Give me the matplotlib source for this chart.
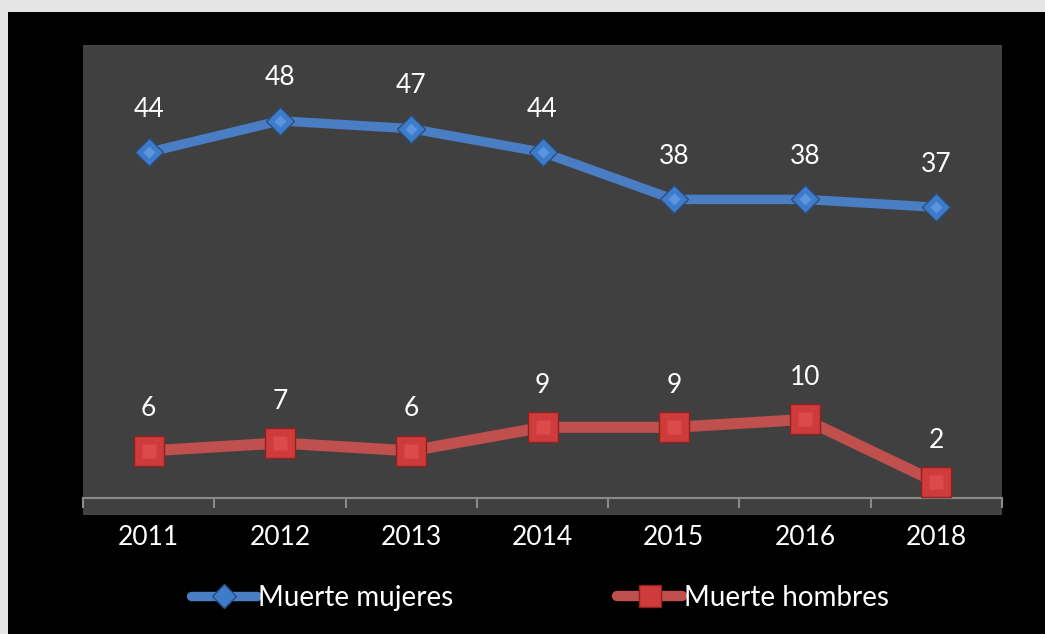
import matplotlib
matplotlib.use("Agg")
import matplotlib.pyplot as plt
from matplotlib.patches import Rectangle
from matplotlib.lines import Line2D

years = ["2011", "2012", "2013", "2014", "2015", "2016", "2018"]
mujeres = [44, 48, 47, 44, 38, 38, 37]
hombres = [6, 7, 6, 9, 9, 10, 2]
series_names = ["Muerte mujeres", "Muerte hombres"]

plt.rcParams['font.family'] = ['Lato', 'DejaVu Sans']
FS = 19

W, H = 1045, 634
fig = plt.figure(figsize=(W / 100, H / 100), dpi=100)
fig.patch.set_facecolor("#e4e4e4")
bg = Rectangle((8 / W, 0), 1 - 8 / W, 1 - 12 / H, transform=fig.transFigure,
               facecolor="black", edgecolor="none", zorder=-10)
fig.patches.append(bg)

ax = fig.add_axes([83 / W, 1 - 515 / H, (1002 - 83) / W, (515 - 45) / H])
ax.set_facecolor("#404040")
ax.set_xlim(-0.5, len(years) - 0.5)
ax.set_ylim(-2.16, 57.65)

for s in ["top", "left", "right"]:
    ax.spines[s].set_visible(False)
ax.spines["bottom"].set_position(("data", 0))
ax.spines["bottom"].set_color("#8a8a8a")
ax.spines["bottom"].set_linewidth(1.5)
ax.set_yticks([])
ax.set_xticks([])
ax.set_xticks([i - 0.5 for i in range(len(years) + 1)], minor=True)
ax.tick_params(axis="x", which="minor", direction="out", length=7.5, width=1.5,
               color="#8a8a8a", labelbottom=False)

x = list(range(len(years)))
blue = "#4a7ec4"
red = "#c0504d"

ax.plot(x, mujeres, color=blue, lw=6.8, solid_capstyle="butt", zorder=3)
ax.plot(x, mujeres, linestyle="none", marker="D", markersize=14.5,
        markerfacecolor="#3f7bcb", markeredgecolor="#2a4e7c", markeredgewidth=1.0, zorder=4)
ax.plot(x, mujeres, linestyle="none", marker="D", markersize=6,
        markerfacecolor="#5b95df", markeredgecolor="none", zorder=5)

ax.plot(x, hombres, color=red, lw=8, solid_capstyle="butt", zorder=3)
ax.plot(x, hombres, linestyle="none", marker="s", markersize=21.5,
        markerfacecolor="#cf3a3a", markeredgecolor="#8e2222", markeredgewidth=1.0, zorder=4)
ax.plot(x, hombres, linestyle="none", marker="s", markersize=10,
        markerfacecolor="#dc4a4a", markeredgecolor="none", zorder=5)

for xi, v in zip(x, mujeres):
    ax.annotate(str(v), (xi, v), xytext=(0, 43), textcoords="offset pixels",
                ha="center", va="center", color="white", fontsize=FS)
for xi, v in zip(x, hombres):
    ax.annotate(str(v), (xi, v), xytext=(0, 42), textcoords="offset pixels",
                ha="center", va="center", color="white", fontsize=FS)

for xi, lab in zip(x, years):
    ax.text(xi, -4.96, lab, ha="center", va="center", color="white", fontsize=FS, clip_on=False)

# legend
h1 = Line2D([], [], color=blue, lw=6.8, marker="D", markersize=12.5,
            markerfacecolor="#3f7bcb", markeredgecolor="#2a4e7c", solid_capstyle="round")
h2 = Line2D([], [], color=red, lw=7.5, marker="s", markersize=15.5,
            markerfacecolor="#cf3a3a", markeredgecolor="#8e2222", solid_capstyle="round")
leg = fig.legend([h1, h2], series_names, loc="center", bbox_to_anchor=(540 / W, 1 - 598 / H),
                 ncol=2, frameon=False, fontsize=20, labelcolor="white",
                 handlelength=2.35, handletextpad=0.05, columnspacing=5.9)

fig.savefig("out.png", dpi=100, facecolor=fig.get_facecolor())
